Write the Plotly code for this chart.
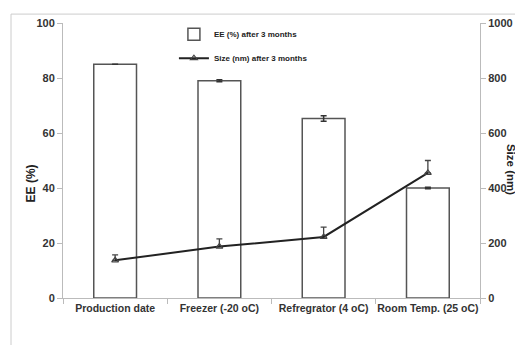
import plotly.graph_objects as go

categories = ["Production date", "Freezer (-20 oC)", "Refregrator (4 oC)", "Room Temp. (25 oC)"]
ee_values = [85.0, 79.0, 65.3, 40.0]
ee_errors = [None, 0.4, 1.0, 0.3]
size_values = [137, 187, 222, 455]
size_errors = [20, 28, 36, 45]
left_ticks = [0, 20, 40, 60, 80, 100]
right_ticks = [0, 200, 400, 600, 800, 1000]

FONT = "Liberation Sans, Arial, sans-serif"

fig = go.Figure()
fig.add_trace(go.Bar(
    x=categories, y=ee_values, name="EE (%) after 3 months",
    marker=dict(color="white", line=dict(color="#555555", width=1.5)),
    error_y=dict(type="data", array=ee_errors, color="#333333", thickness=1.5, width=3),
    legendgroup="a",
))
fig.add_trace(go.Scatter(
    x=categories, y=size_values, yaxis="y2", name="Size (nm) after 3 months",
    mode="lines+markers",
    line=dict(color="#222222", width=2),
    marker=dict(symbol="triangle-up-open", size=6, color="#444444", line=dict(width=1.2)),
    error_y=dict(type="data", array=size_errors, arrayminus=[0, 0, 0, 0],
                 color="#444444", thickness=1.3, width=3),
    legendgroup="b",
))

axis_common = dict(
    showgrid=False, zeroline=False, showline=True, linecolor="#bbbbbb", linewidth=1,
    ticks="outside", tickcolor="#bbbbbb", ticklen=5, automargin=False,
    tickfont=dict(family=FONT, size=11, color="#333333", weight="bold"),
)

fig.update_layout(
    width=515, height=337,
    margin=dict(l=55, r=43, t=12, b=47),
    paper_bgcolor="white", plot_bgcolor="white",
    bargap=0.59,
    showlegend=True,
    legend=dict(x=0.266, y=1.012, xanchor="left", yanchor="top",
                font=dict(family=FONT, size=8, color="#222222", weight="bold"),
                bgcolor="rgba(0,0,0,0)", tracegroupgap=5, itemwidth=30),
    xaxis=dict(**axis_common, tickson="boundaries", tickangle=0),
    yaxis=dict(**axis_common, range=[0, 100], tickvals=left_ticks),
    yaxis2=dict(**axis_common, range=[0, 1000], tickvals=right_ticks,
                overlaying="y", side="right"),
    annotations=[
        dict(text="EE (%)", x=-0.098, y=0.417, xref="paper", yref="paper",
             textangle=-90, showarrow=False,
             font=dict(family=FONT, size=12, color="#222222", weight="bold")),
        dict(text="Size (nm)", x=1.092, y=0.468, xref="paper", yref="paper",
             textangle=90, showarrow=False,
             font=dict(family=FONT, size=11.5, color="#222222", weight="bold")),
    ],
    shapes=[
        dict(type="line", xref="paper", yref="paper", x0=-0.1247, x1=1.2, y0=1.0324, y1=1.0324,
             line=dict(color="#cccccc", width=1)),
        dict(type="line", xref="paper", yref="paper", x0=-0.1247, x1=-0.1247, y0=1.0324, y1=-0.3,
             line=dict(color="#cccccc", width=1)),
    ],
)
fig.update_xaxes(tickfont=dict(family=FONT, size=10.5, color="#333333", weight="bold"))

fig.write_html("out.html")
